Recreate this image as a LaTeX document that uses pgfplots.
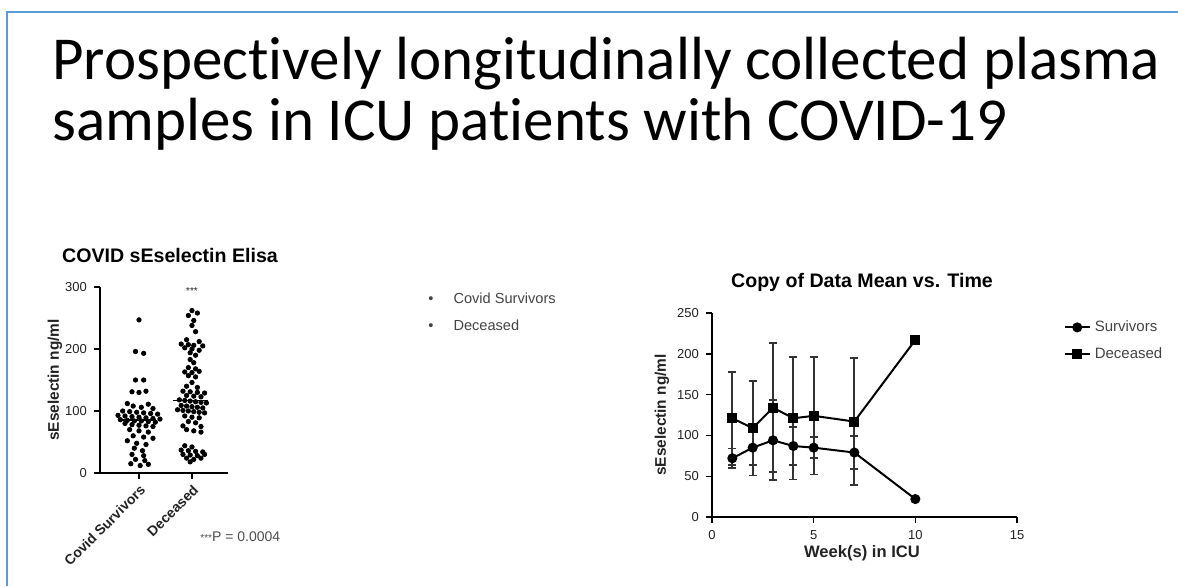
\documentclass[border=0pt]{standalone}
\usepackage{fontspec}
\setmainfont{Liberation Sans}
\newfontfamily\titlefont[Ligatures=NoCommon]{Carlito}
\usepackage{pgfplots}
\pgfplotsset{compat=1.18}
\definecolor{framecol}{HTML}{5B9BD5}
\definecolor{txt}{HTML}{222222}
\begin{document}
\begin{tikzpicture}
\path[use as bounding box] (0pt,0pt) rectangle (589pt,-293pt);
\draw[framecol, line width=1pt] (3.5pt,-293pt) -- (3.5pt,-6pt) -- (589pt,-6pt);
\node[anchor=base west, inner sep=0pt] at (26pt,-39.5pt) {\titlefont\fontsize{30.5}{36}\selectfont Prospectively longitudinally collected plasma};
\node[anchor=base west, inner sep=0pt] at (26pt,-70pt) {\titlefont\fontsize{30.5}{36}\selectfont samples in ICU patients with COVID-19};

% ---------- left chart ----------
\begin{axis}[
  at={(50pt,-236.5pt)}, anchor=south west, scale only axis,
  width=64pt, height=93pt,
  xmin=0.264, xmax=2.68, ymin=0, ymax=300,
  axis lines*=left,
  axis line style={line width=0.9pt, black},
  xtick={1,2}, xticklabels={Covid Survivors, Deceased},
  ytick={0,100,200,300},
  tick align=outside, major tick length=3pt,
  tick style={line width=0.7pt, black},
  /pgf/number format/assume math mode=true,
  y tick label style={font=\fontsize{6.5}{7}\selectfont, text=txt},
  x tick label style={font=\bfseries\fontsize{7}{8}\selectfont, text=txt, rotate=45, anchor=north east, inner sep=1.5pt},
  clip=false,
]
\addplot[only marks, mark=*, mark size=1.1pt, black] coordinates {
(1.00,247)
(0.934,196) (1.088,193)
(0.934,150) (1.088,150)
(0.868,131) (1.00,130) (1.132,132)
(0.78,112) (1.176,111) (0.89,108) (1.044,106) (1.264,104)
(0.692,100) (0.824,99) (0.956,98) (1.088,97) (1.22,96) (1.352,95)
(0.604,93) (0.736,92) (0.868,91) (1.00,90) (1.132,89) (1.264,88) (1.396,87)
(0.648,86) (0.78,85) (0.912,84) (1.044,84) (1.176,83) (1.308,82)
(0.736,80) (0.868,78) (1.00,77) (1.132,76) (1.264,75)
(0.824,70) (1.00,68) (1.176,66)
(0.89,60) (1.088,58) (1.264,56)
(0.78,52) (0.956,48) (1.132,46)
(0.912,40) (1.066,36)
(0.868,30) (1.088,28)
(0.934,22) (1.11,20)
(0.846,15) (1.022,12) (1.176,14)
};
\addplot[only marks, mark=*, mark size=1.1pt, black] coordinates {
(2.00,262) (2.102,258) (1.932,254)
(2.034,246) (2.00,238) (2.068,228)
(1.898,215) (2.136,212) (1.796,208) (1.932,207) (2.034,206) (2.204,205) (1.864,202) (2.00,200) (2.136,198) (1.966,194) (2.068,190)
(1.966,183) (2.034,178)
(1.932,170) (2.068,168) (1.864,163) (2.00,162) (2.136,164) (1.932,157) (2.068,155)
(2.00,146) (1.898,140) (2.102,138)
(1.83,132) (1.966,131) (2.102,130) (2.238,129) (1.898,125) (2.034,124) (2.17,123)
(1.762,118) (1.864,117) (1.966,116) (2.068,115) (2.17,114) (2.272,113)
(1.796,109) (1.898,108) (2.00,107) (2.102,106) (2.204,105)
(1.728,102) (1.83,101) (1.932,100) (2.034,99) (2.136,98) (2.238,97)
(1.864,92) (2.00,90) (2.136,89)
(1.932,83) (2.068,81) (1.83,76) (2.17,75)
(1.898,70) (2.034,68) (2.17,66)
(1.864,44) (2.00,42)
(1.796,37) (1.932,36) (2.068,35) (2.204,34)
(1.83,30) (1.966,29) (2.102,28) (2.238,30)
(1.898,24) (2.034,22) (2.17,24)
(1.966,18)
};
\addplot[black, line width=0.9pt] coordinates {(0.67,85.5) (1.33,85.5)};
\addplot[black, line width=0.9pt] coordinates {(1.64,117) (2.30,117)};
\node[font=\fontsize{5}{6}\selectfont, text=txt] at (axis cs:2,293) {***};
\end{axis}
\node[text=black, font=\bfseries\fontsize{9.8}{11}\selectfont] at (85pt,-127.5pt) {COVID sEselectin Elisa};
\node[rotate=90, text=txt, font=\bfseries\fontsize{7.7}{9}\selectfont] at (27.5pt,-190pt) {sEselectin ng/ml};
\node[anchor=west, text=txt!80, font=\fontsize{7}{8}\selectfont, inner sep=0pt] at (100pt,-268.5pt) {{\fontsize{5}{6}\selectfont ***}P = 0.0004};

% ---------- middle legend ----------
\node[anchor=west, inner sep=0pt, font=\fontsize{7.3}{8}\selectfont, text=txt!85] at (214pt,-149pt) {\textbullet\hspace{10pt}Covid Survivors};
\node[anchor=west, inner sep=0pt, font=\fontsize{7.3}{8}\selectfont, text=txt!85] at (214pt,-162.5pt) {\textbullet\hspace{10pt}Deceased};

% ---------- right chart ----------
\begin{axis}[
  at={(356pt,-258.5pt)}, anchor=south west, scale only axis,
  width=152.5pt, height=102pt,
  xmin=0, xmax=15, ymin=0, ymax=250,
  axis lines*=left,
  axis line style={line width=0.9pt, black},
  xtick={0,5,10,15}, ytick={0,50,100,150,200,250},
  tick align=outside, major tick length=3pt,
  tick style={line width=0.7pt, black},
  /pgf/number format/assume math mode=true,
  tick label style={font=\fontsize{6.5}{7}\selectfont, text=txt},
  clip=false,
  legend style={at={(1.152,0.985)}, anchor=north west, draw=none, fill=none,
    font=\fontsize{7.5}{8}\selectfont, text=txt!85, row sep=2.5pt, inner sep=0pt},
  legend cell align=left,
  legend image code/.code={\draw[mark repeat=2, mark phase=2] plot coordinates {(0pt,0pt) (6.25pt,0pt) (12.5pt,0pt)};},
]
\addplot[black, line width=1pt, mark=*, mark size=2pt, mark options={solid},
  error bars/.cd, y dir=both, y explicit,
  error bar style={line width=0.9pt, black!80},
  error mark options={rotate=90, mark size=2pt, line width=0.9pt, black!80}]
coordinates {
(1,72) +- (0,12)
(2,85) +- (0,21)
(3,94) +- (0,49)
(4,87) +- (0,23)
(5,85) +- (0,13)
(7,79) +- (0,20)
(10,22) +- (0,0)
};
\addlegendentry{Survivors}
\addplot[black, line width=1pt, mark=square*, mark size=2pt, mark options={solid},
  error bars/.cd, y dir=both, y explicit,
  error bar style={line width=0.9pt, black!80},
  error mark options={rotate=90, mark size=2pt, line width=0.9pt, black!80}]
coordinates {
(1,121) +- (0,57)
(2,109) +- (0,58)
(3,134) +- (0,79)
(4,121) +- (0,75)
(5,124) +- (0,72)
(7,117) +- (0,78)
(10,217) +- (0,0)
};
\addlegendentry{Deceased}
\end{axis}
\node[text=black, font=\bfseries\fontsize{9.8}{11}\selectfont] at (431pt,-141pt) {Copy of Data Mean vs. Time};
\node[text=txt, font=\bfseries\fontsize{8.3}{9}\selectfont] at (431pt,-276.5pt) {Week(s) in ICU};
\node[rotate=90, text=txt, font=\bfseries\fontsize{7.7}{9}\selectfont] at (331pt,-207.5pt) {sEselectin ng/ml};
\end{tikzpicture}
\end{document}
